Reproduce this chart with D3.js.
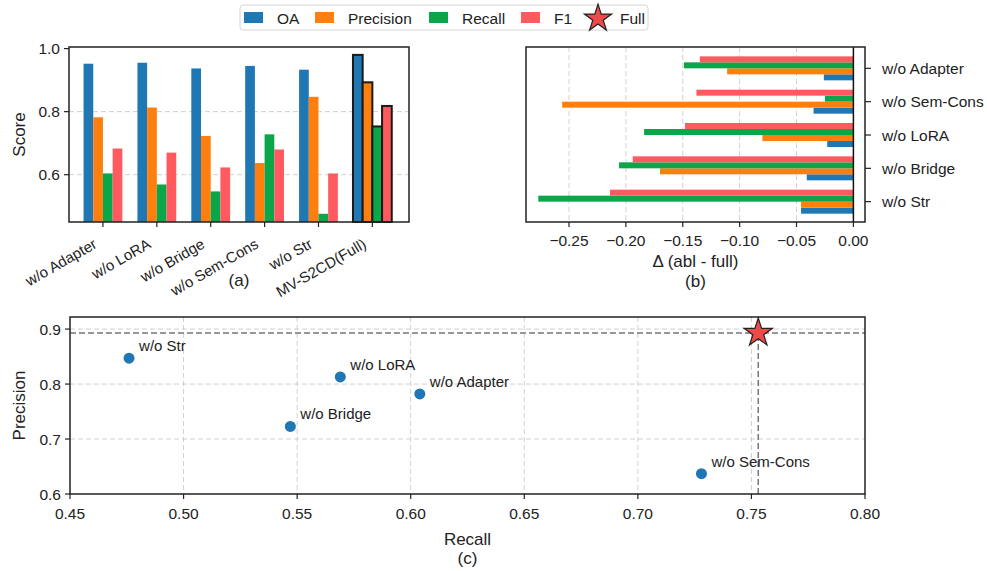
<!DOCTYPE html>
<html><head><meta charset="utf-8">
<script src="https://cdn.jsdelivr.net/npm/d3@7"></script>
<style>
body{margin:0;background:#fff;}
text{font-family:"Liberation Sans",Arial,sans-serif;fill:#222;}
</style></head>
<body><svg id="c" width="987" height="571"></svg>
<script>
// ---- data ----
const variants = ["w/o Adapter","w/o LoRA","w/o Bridge","w/o Sem-Cons","w/o Str","MV-S2CD(Full)"];
const metrics = ["OA","Precision","Recall","F1"];
const colors = ["#1f77b4","#ff7f0e","#0ca64a","#ff5a5f"];
const oa        = [0.952,0.955,0.937,0.945,0.933,0.980];
const precision = [0.782,0.813,0.723,0.637,0.847,0.893];
const recall    = [0.604,0.569,0.547,0.728,0.476,0.753];
const f1        = [0.683,0.670,0.623,0.680,0.604,0.818];
// panel b: deltas (ablation - full)
const deltaCats = ["w/o Adapter","w/o Sem-Cons","w/o LoRA","w/o Bridge","w/o Str"];
const dOA  = [-0.026,-0.035,-0.023,-0.041,-0.046];
const dP   = [-0.111,-0.256,-0.080,-0.170,-0.046];
const dR   = [-0.149,-0.025,-0.184,-0.206,-0.277];
const dF1  = [-0.135,-0.138,-0.148,-0.194,-0.214];
// panel c
const scatterNames = ["w/o Adapter","w/o LoRA","w/o Bridge","w/o Sem-Cons","w/o Str"];
const scatterRecall = [0.604,0.569,0.547,0.728,0.476];
const scatterPrec   = [0.782,0.813,0.723,0.637,0.847];
const fullRecall = 0.753, fullPrec = 0.893;
const aTicks = [0.6,0.8,1.0];
const bTicks = [-0.25,-0.20,-0.15,-0.10,-0.05,0.00];
const cXTicks = [0.45,0.50,0.55,0.60,0.65,0.70,0.75,0.80];
const cYTicks = [0.6,0.7,0.8,0.9];

const svg = d3.select("#c");
const FS = 15.5, LFS = 17;
const gridCol = "#d0d0d0";
const minus = s => s.replace("-", "\u2212");

// ---------- Panel (a) ----------
{
  const L=69,R=409,T=47,B=222;
  const x = d3.scaleLinear().domain([-0.63,5.68]).range([L,R]);
  const y = d3.scaleLinear().domain([0.45,1.005]).range([B,T]);
  const g = svg.append("g");
  g.selectAll("line.grid").data(aTicks.slice(0,2)).join("line")
    .attr("x1",L).attr("x2",R).attr("y1",d=>y(d)).attr("y2",d=>y(d))
    .attr("stroke",gridCol).attr("stroke-dasharray","5,3").attr("stroke-width",1);
  const series=[oa,precision,recall,f1];
  const bw=0.18;
  series.forEach((s,k)=>{
    g.selectAll(null).data(s).join("rect")
      .attr("x",(d,i)=>x(i+(k-2)*bw))
      .attr("width",x(bw)-x(0))
      .attr("y",d=>y(d)).attr("height",d=>B-y(d))
      .attr("fill",colors[k])
      .attr("stroke",(d,i)=>i===5?"#1a1a1a":"none")
      .attr("stroke-width",2);
  });
  g.append("rect").attr("x",L).attr("y",T).attr("width",R-L).attr("height",B-T)
    .attr("fill","none").attr("stroke","#222").attr("stroke-width",1.5);
  // y axis
  aTicks.forEach(t=>{
    g.append("line").attr("x1",L-5).attr("x2",L).attr("y1",y(t)).attr("y2",y(t)).attr("stroke","#222").attr("stroke-width",1.2);
    g.append("text").attr("x",L-9).attr("y",y(t)+5.5).attr("text-anchor","end").attr("font-size",FS).text(t.toFixed(1));
  });
  variants.forEach((v,i)=>{
    g.append("line").attr("x1",x(i)).attr("x2",x(i)).attr("y1",B).attr("y2",B+5).attr("stroke","#222").attr("stroke-width",1.2);
    g.append("text").attr("transform",`translate(${x(i)-5},${B+25}) rotate(-30)`)
      .attr("text-anchor","end").attr("font-size",15).text(v);
  });
  g.append("text").attr("transform",`translate(25,${(T+B)/2}) rotate(-90)`).attr("text-anchor","middle").attr("font-size",LFS).text("Score");
  g.append("text").attr("x",(L+R)/2).attr("y",286).attr("text-anchor","middle").attr("font-size",LFS).text("(a)");
}

// ---------- Panel (b) ----------
{
  const L=526,R=865,T=47,B=222;
  const x = d3.scaleLinear().domain([-0.2878,0.0102]).range([L,R]);
  const y = d3.scaleLinear().domain([-0.61,4.64]).range([B,T]); // 0 = w/o Str (bottom)
  const g = svg.append("g");
  bTicks.slice(0,5).forEach(t=>{
    g.append("line").attr("x1",x(t)).attr("x2",x(t)).attr("y1",T).attr("y2",B)
      .attr("stroke",gridCol).attr("stroke-dasharray","5,3");
  });
  const series=[dOA,dP,dR,dF1];
  const bh=0.18;
  series.forEach((s,k)=>{
    g.selectAll(null).data(s).join("rect")
      .attr("x",d=>x(d)).attr("width",d=>x(0)-x(d))
      .attr("y",(d,i)=>{const pos=4-i; return y(pos+(k-2)*bh+bh);})
      .attr("height",y(0)-y(bh))
      .attr("fill",colors[k]);
  });
  g.append("line").attr("x1",x(0)).attr("x2",x(0)).attr("y1",T).attr("y2",B).attr("stroke","#111").attr("stroke-width",1.5);
  g.append("rect").attr("x",L).attr("y",T).attr("width",R-L).attr("height",B-T)
    .attr("fill","none").attr("stroke","#222").attr("stroke-width",1.5);
  bTicks.forEach(t=>{
    g.append("line").attr("x1",x(t)).attr("x2",x(t)).attr("y1",B).attr("y2",B+5).attr("stroke","#222").attr("stroke-width",1.2);
    g.append("text").attr("x",x(t)).attr("y",B+24).attr("text-anchor","middle").attr("font-size",FS).text(minus(t.toFixed(2)).replace("\u22120.00","0.00"));
  });
  deltaCats.forEach((c,i)=>{
    const yy=y(4-i);
    g.append("line").attr("x1",R).attr("x2",R+6).attr("y1",yy).attr("y2",yy).attr("stroke","#222").attr("stroke-width",1.2);
    g.append("text").attr("x",R+17).attr("y",yy+5.5).attr("font-size",FS).text(c);
  });
  g.append("text").attr("x",(L+R)/2).attr("y",267).attr("text-anchor","middle").attr("font-size",LFS).text("\u0394 (abl - full)");
  g.append("text").attr("x",(L+R)/2).attr("y",287).attr("text-anchor","middle").attr("font-size",LFS).text("(b)");
}

// ---------- Panel (c) ----------
{
  const L=70,R=865,T=317,B=494;
  const x = d3.scaleLinear().domain([0.45,0.80]).range([L,R]);
  const y = d3.scaleLinear().domain([0.6,0.922]).range([B,T]);
  const g = svg.append("g");
  cXTicks.slice(1,7).forEach(t=>{
    g.append("line").attr("x1",x(t)).attr("x2",x(t)).attr("y1",T).attr("y2",B).attr("stroke",gridCol).attr("stroke-dasharray","5,3");
  });
  cYTicks.slice(1).forEach(t=>{
    g.append("line").attr("x1",L).attr("x2",R).attr("y1",y(t)).attr("y2",y(t)).attr("stroke",gridCol).attr("stroke-dasharray","5,3");
  });
  g.append("line").attr("x1",L).attr("x2",R).attr("y1",y(fullPrec)).attr("y2",y(fullPrec))
    .attr("stroke","#777").attr("stroke-width",1.5).attr("stroke-dasharray","6,3");
  g.append("line").attr("x1",x(fullRecall)).attr("x2",x(fullRecall)).attr("y1",B).attr("y2",y(fullPrec))
    .attr("stroke","#777").attr("stroke-width",1.5).attr("stroke-dasharray","6,3");
  scatterNames.forEach((n,i)=>{
    const px=x(scatterRecall[i]), py=y(scatterPrec[i]);
    g.append("circle").attr("cx",px).attr("cy",py).attr("r",5.5).attr("fill","#1f77b4");
    g.append("text").attr("x",px+10).attr("y",py-7).attr("font-size",FS-0.5).text(n);
  });
  const star = d3.symbol().type(d3.symbolStar).size(250);
  g.append("path").attr("d",star()).attr("transform",`translate(${x(fullRecall)},${y(fullPrec)})`)
    .attr("fill","#ef4a4a").attr("stroke","#222").attr("stroke-width",1.2);
  g.append("rect").attr("x",L).attr("y",T).attr("width",R-L).attr("height",B-T)
    .attr("fill","none").attr("stroke","#222").attr("stroke-width",1.5);
  cXTicks.forEach(t=>{
    g.append("line").attr("x1",x(t)).attr("x2",x(t)).attr("y1",B).attr("y2",B+5).attr("stroke","#222").attr("stroke-width",1.2);
    g.append("text").attr("x",x(t)).attr("y",B+25).attr("text-anchor","middle").attr("font-size",FS).text(t.toFixed(2));
  });
  cYTicks.forEach(t=>{
    g.append("line").attr("x1",L-5).attr("x2",L).attr("y1",y(t)).attr("y2",y(t)).attr("stroke","#222").attr("stroke-width",1.2);
    g.append("text").attr("x",L-9).attr("y",y(t)+5.5).attr("text-anchor","end").attr("font-size",FS).text(t.toFixed(1));
  });
  g.append("text").attr("transform",`translate(25,${(T+B)/2}) rotate(-90)`).attr("text-anchor","middle").attr("font-size",LFS).text("Precision");
  g.append("text").attr("x",(L+R)/2).attr("y",545).attr("text-anchor","middle").attr("font-size",LFS).text("Recall");
  g.append("text").attr("x",(L+R)/2).attr("y",564).attr("text-anchor","middle").attr("font-size",LFS).text("(c)");
}

// ---------- Legend ----------
{
  const g = svg.append("g");
  g.append("rect").attr("x",240).attr("y",5).attr("width",408).attr("height",25).attr("rx",3)
    .attr("fill","#fff").attr("stroke","#d5d5d5").attr("stroke-width",1);
  const px=[244,315,429,521];
  metrics.forEach((m,k)=>{
    g.append("rect").attr("x",px[k]).attr("y",12).attr("width",19).attr("height",11).attr("fill",colors[k]);
    g.append("text").attr("x",px[k]+33).attr("y",23.5).attr("font-size",FS).text(m);
  });
  const star = d3.symbol().type(d3.symbolStar).size(230);
  g.append("path").attr("d",star()).attr("transform","translate(598,18.5)")
    .attr("fill","#ef4a4a").attr("stroke","#222").attr("stroke-width",1.2);
  g.append("text").attr("x",620).attr("y",23.5).attr("font-size",FS).text("Full");
}
</script></body></html>
